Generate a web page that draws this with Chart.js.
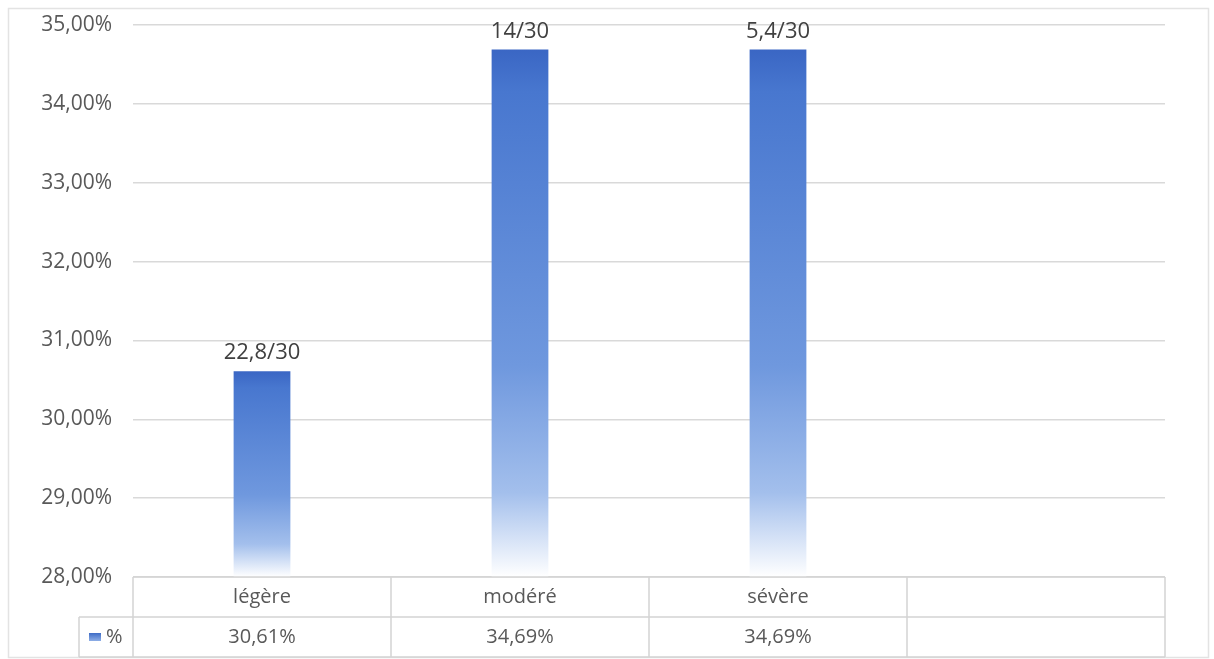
<!DOCTYPE html>
<html>
<head>
<meta charset="utf-8">
<script src="https://cdn.jsdelivr.net/npm/chart.js@4"></script>
<style>
html,body{margin:0;padding:0;background:#fff;}
#wrap{width:1214px;height:659px;position:relative;}
</style>
</head>
<body>
<div id="wrap"><canvas id="c" width="1214" height="659"></canvas></div>
<script>
const categories = ['légère', 'modéré', 'sévère', ''];
const values = [30.61, 34.69, 34.69, null];
const topLabels = ['22,8/30', '14/30', '5,4/30', ''];
const tableValues = ['30,61%', '34,69%', '34,69%', ''];
const seriesName = '%';
const yMin = 28, yMax = 35;

const FONT = '"Open Sans", "DejaVu Sans", sans-serif';
const TEXT = '#595959';

function fmt(v){ return v.toFixed(2).replace('.', ',') + '%'; }

const frame = {
  id: 'frame',
  beforeDraw(chart){
    const ctx = chart.ctx;
    ctx.save();
    ctx.fillStyle = '#fff';
    ctx.fillRect(0,0,chart.width,chart.height);
    ctx.strokeStyle = '#e3e3e3';
    ctx.lineWidth = 1.5;
    ctx.strokeRect(8.5, 8.5, chart.width - 14, chart.height - 10);
    ctx.restore();
  }
};

const labelsAndTable = {
  id: 'labelsAndTable',
  afterDatasetsDraw(chart){
    const ctx = chart.ctx;
    const meta = chart.getDatasetMeta(0);
    ctx.save();
    ctx.font = '22px ' + FONT;
    ctx.fillStyle = '#404040';
    ctx.textAlign = 'center';
    ctx.textBaseline = 'bottom';
    meta.data.forEach((bar, i) => {
      if (values[i] == null) return;
      ctx.fillText(topLabels[i], bar.x, bar.y - 7);
    });
    ctx.restore();
  },
  afterDraw(chart){
    const ctx = chart.ctx;
    const x = chart.scales.x;
    const area = chart.chartArea;
    const n = categories.length;
    const half = (x.getPixelForValue(1) - x.getPixelForValue(0)) / 2;
    const bounds = [];
    for (let i = 0; i < n; i++) bounds.push(x.getPixelForValue(i) - half);
    bounds.push(x.getPixelForValue(n - 1) + half);
    const r0 = area.bottom, r1 = r0 + 40, r2 = r1 + 40;
    const legendLeft = 79;
    ctx.save();
    ctx.strokeStyle = '#d4d4d4';
    ctx.lineWidth = 1.5;
    ctx.beginPath();
    ctx.moveTo(bounds[0], r0); ctx.lineTo(bounds[n], r0);
    ctx.moveTo(legendLeft, r1); ctx.lineTo(bounds[n], r1);
    ctx.moveTo(legendLeft, r2); ctx.lineTo(bounds[n], r2);
    bounds.forEach(b => { ctx.moveTo(b, r0); ctx.lineTo(b, r2); });
    ctx.moveTo(legendLeft, r1); ctx.lineTo(legendLeft, r2);
    ctx.stroke();

    ctx.font = '20px ' + FONT;
    ctx.fillStyle = TEXT;
    ctx.textAlign = 'center';
    ctx.textBaseline = 'middle';
    for (let i = 0; i < n; i++) {
      const cx = x.getPixelForValue(i);
      ctx.fillText(categories[i], cx, (r0 + r1) / 2);
      ctx.fillText(tableValues[i], cx, (r1 + r2) / 2);
    }
    const g = ctx.createLinearGradient(0, (r1+r2)/2 - 4, 0, (r1+r2)/2 + 4);
    g.addColorStop(0, '#3f6cc6'); g.addColorStop(1, '#8eaee6');
    ctx.fillStyle = g;
    ctx.fillRect(89, (r1 + r2) / 2 - 4, 12, 8);
    ctx.fillStyle = TEXT;
    ctx.textAlign = 'left';
    ctx.fillText(seriesName, 106, (r1 + r2) / 2);
    ctx.restore();
  }
};

new Chart(document.getElementById('c'), {
  type: 'bar',
  data: {
    labels: categories,
    datasets: [{
      label: seriesName,
      data: values,
      categoryPercentage: 1,
      barPercentage: 0.22,
      borderWidth: 0,
      backgroundColor(ctx){
        const chart = ctx.chart;
        const area = chart.chartArea;
        if (!area) return '#4472c4';
        const v = ctx.raw;
        if (v == null) return '#4472c4';
        const top = chart.scales.y.getPixelForValue(v);
        const g = chart.ctx.createLinearGradient(0, top, 0, area.bottom);
        g.addColorStop(0, '#3a66c4');
        g.addColorStop(0.08, '#4877cf');
        g.addColorStop(0.6, '#6f98de');
        g.addColorStop(0.84, '#a3bfec');
        g.addColorStop(1, '#ffffff');
        return g;
      }
    }]
  },
  options: {
    responsive: false,
    animation: false,
    layout: { padding: { top: 25, right: 49, bottom: 82, left: 0 } },
    plugins: { legend: { display: false }, tooltip: { enabled: false } },
    scales: {
      x: { display: false },
      y: {
        min: yMin, max: yMax,
        afterFit(s){ s.width = 133; s.paddingTop = 0; s.paddingBottom = 0; },
        border: { display: false },
        grid: { color: '#d9d9d9', lineWidth: 1.5, drawTicks: false },
        ticks: {
          stepSize: 1,
          padding: 21,
          color: TEXT,
          font: { family: FONT, size: 21 },
          callback: v => fmt(v)
        }
      }
    }
  },
  plugins: [frame, labelsAndTable]
});
</script>
</body>
</html>
